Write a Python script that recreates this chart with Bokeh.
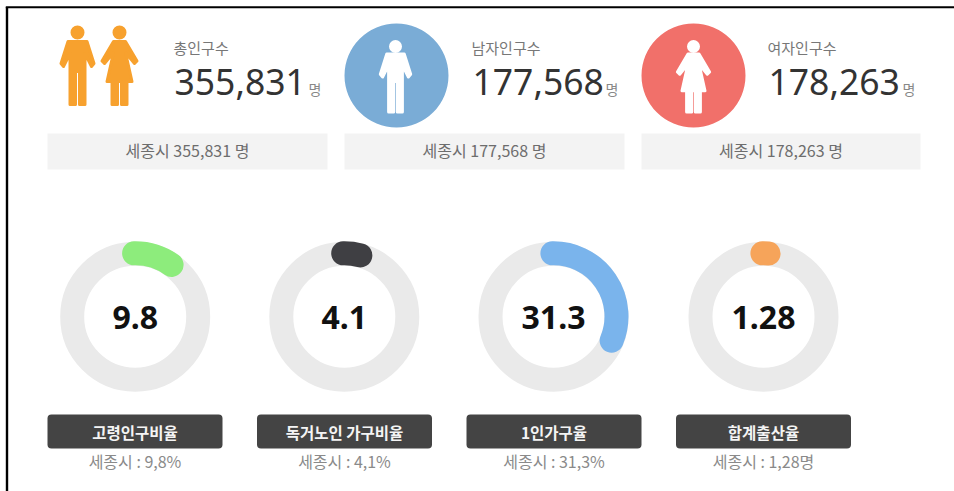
import math
from bokeh.plotting import figure
from bokeh.models import Range1d
from bokeh.core.properties import value
from bokeh.embed import file_html
from bokeh.resources import INLINE

# ---- data ----
card_titles = ["총인구수", "남자인구수", "여자인구수"]
card_values = ["355,831", "177,568", "178,263"]
card_unit = "명"
card_notes = ["세종시 355,831 명", "세종시 177,568 명", "세종시 178,263 명"]
gauge_values = [9.8, 4.1, 31.3, 1.28]
gauge_texts = ["9.8", "4.1", "31.3", "1.28"]
gauge_labels = ["고령인구비율", "독거노인 가구비율", "1인가구율", "합계출산율"]
gauge_notes = ["세종시 : 9,8%", "세종시 : 4,1%", "세종시 : 31,3%", "세종시 : 1,28명"]
gauge_colors = ["#8dec7c", "#3f3f43", "#7ab4ec", "#f6a45a"]

# ---- layout ----
W, H = 954, 491
KR = value("Noto Sans CJK KR")
card_x = [47, 344, 641]
card_w = [280, 280, 279]
title_x = [173, 471, 767]
num_x = [174, 472, 768]
unit_x = [308, 605, 902]
gauge_cx = [134.7, 343.8, 553, 763]
gauge_cy = 316.3
btn_x = [47, 256.5, 466, 675.5]

p = figure(width=W, height=H, output_backend="svg", toolbar_location=None,
           x_range=Range1d(0, W), y_range=Range1d(H, 0),
           min_border=0, outline_line_color=None)
p.axis.visible = False
p.grid.visible = False

# page frame
p.line([6.5, 6.5], [6.5, H], line_color="#000000", line_width=2.4)
p.line([5.3, W], [6.8, 6.8], line_color="#000000", line_width=2)

MAN = [(-9.5, 0), (9.5, 0), (16.5, 22), (14, 25), (7.5, 12), (7.5, 63), (2, 63), (2, 30),
       (-2, 30), (-2, 63), (-7.5, 63), (-7.5, 12), (-14, 25), (-16.5, 22)]
WOMAN = [(-6, 0), (6, 0), (17.5, 19.5), (15, 22), (6, 11), (12.5, 40), (7.5, 40), (7.5, 63),
         (2, 63), (2, 40), (-2, 40), (-2, 63), (-7.5, 63), (-7.5, 40), (-12.5, 40),
         (-6, 11), (-15, 22), (-17.5, 19.5)]


def person(shape, cx, shoulder_y, head_y, head_r, color, s=1.0):
    p.patch([cx + a * s for a, _ in shape], [shoulder_y + b * s for _, b in shape],
            fill_color=color, line_color=color, line_width=3, line_join="round")
    p.scatter([cx], [head_y], size=head_r * 2, marker="circle", fill_color=color, line_color=None)


# top row icons
person(MAN, 77, 41, 32, 7, "#f7a12e")
person(WOMAN, 119, 41, 32, 7, "#f7a12e")
p.circle([396, 693], [75, 75], radius=52, fill_color=["#7aacd6", "#f1706a"], line_color=None)
person(MAN, 395, 53.5, 46, 6.5, "#ffffff", 0.92)
person(WOMAN, 693, 53.5, 46, 6.5, "#ffffff", 0.92)

# top row texts and bars
for i in range(3):
    p.quad(left=[card_x[i]], right=[card_x[i] + card_w[i]], top=[133], bottom=[169],
           fill_color="#f3f3f3", line_color=None)
    p.text([card_x[i] + card_w[i] / 2], [149.5], text=[card_notes[i]], text_font=KR,
           text_font_size="16px", text_color="#6d6d6d", text_align="center", text_baseline="middle")
    p.text([title_x[i]], [47], text=[card_titles[i]], text_font=KR, text_font_size="15px",
           text_color="#777777", text_align="left", text_baseline="middle")
    p.text([num_x[i]], [81.5], text=[card_values[i]], text_font=value("Noto Sans"),
           text_font_size="35.5px", text_color="#333333", text_align="left", text_baseline="middle")
    p.text([unit_x[i]], [88.5], text=[card_unit], text_font=KR, text_font_size="14px",
           text_color="#888888", text_align="left", text_baseline="middle")

# gauges
for i, v in enumerate(gauge_values):
    cx = gauge_cx[i]
    p.circle([cx], [gauge_cy], radius=63, fill_color=None, line_color="#eaeaea", line_width=24)
    start = math.pi / 2 + math.radians(1)
    end = math.pi / 2 - math.radians(v * 3.6)
    p.arc([cx], [gauge_cy - 0.5], radius=63, start_angle=start, end_angle=end, direction="clock",
          line_color=gauge_colors[i], line_width=24, line_cap="round")
    p.text([cx], [317], text=[gauge_texts[i]], text_font=value("Noto Sans"), text_font_style="bold",
           text_font_size="32px", text_color="#111111", text_align="center", text_baseline="middle")
    p.quad(left=[btn_x[i]], right=[btn_x[i] + 175], top=[414], bottom=[448], border_radius=4,
           fill_color="#444444", line_color=None)
    p.text([btn_x[i] + 87.5], [431], text=[gauge_labels[i]], text_font=KR, text_font_style="bold",
           text_font_size="15.5px", text_color="#f4f4f4", text_align="center", text_baseline="middle")
    p.text([btn_x[i] + 87.5], [460], text=[gauge_notes[i]], text_font=KR,
           text_font_size="16px", text_color="#8a8a8a", text_align="center", text_baseline="middle")

open("out.html", "w").write(file_html(p, INLINE))
